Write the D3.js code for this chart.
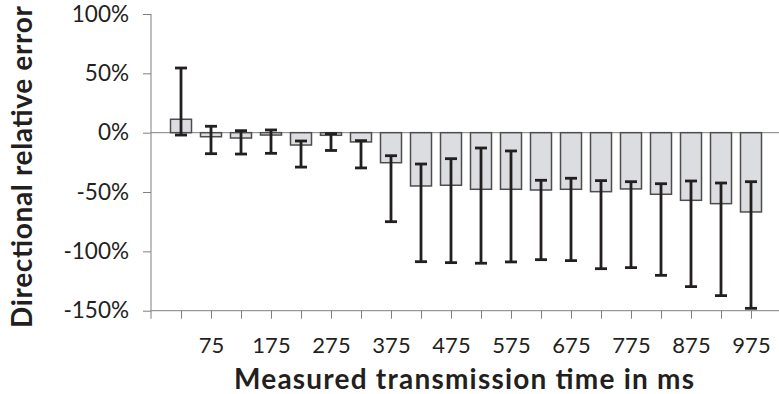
<!DOCTYPE html>
<html>
<head>
<meta charset="utf-8">
<script src="https://cdn.jsdelivr.net/npm/d3@7"></script>
<style>
  body { margin: 0; background: #fff; }
  text { font-family: Lato, "Open Sans", sans-serif; fill: #231f20; }
</style>
</head>
<body>
<script>
var width = 779;
var height = 394;

// measured transmission time bins (ms)
var categories = [25, 75, 125, 175, 225, 275, 325, 375, 425, 475, 525, 575, 625, 675, 725, 775, 825, 875, 925, 975];
// directional relative error (fraction)
var values = [0.113, -0.034, -0.045, -0.02, -0.104, -0.022, -0.078, -0.253, -0.449, -0.443, -0.477, -0.477, -0.483, -0.477, -0.497, -0.474, -0.519, -0.57, -0.598, -0.668];
var errHigh = [0.545, 0.054, 0.017, 0.023, -0.07, -0.008, -0.067, -0.194, -0.264, -0.219, -0.129, -0.154, -0.401, -0.384, -0.404, -0.413, -0.43, -0.407, -0.424, -0.413];
var errLow = [-0.02, -0.177, -0.18, -0.174, -0.29, -0.15, -0.297, -0.75, -1.087, -1.095, -1.10, -1.089, -1.07, -1.078, -1.146, -1.137, -1.202, -1.297, -1.373, -1.48];
var yTicks = [1, 0.5, 0, -0.5, -1, -1.5];
var xLabels = [75, 175, 275, 375, 475, 575, 675, 775, 875, 975];

var svg = d3.select('body')
    .append('svg')
    .attr('width', width)
    .attr('height', height);

var x = d3.scaleLinear()
    .domain([-25, 1025])
    .range([151, 781]);

var y = d3.scaleLinear()
    .domain([-1.5, 1])
    .range([310.7, 14]);

var barWidth = 21;

// y axis
var yAxis = svg.append('g')
    .attr('transform', 'translate(151,0)')
    .call(d3.axisLeft(y)
        .tickValues(yTicks)
        .tickSize(8)
        .tickPadding(14)
        .tickFormat(function(d) { return Math.round(d * 100) + '%'; }));
yAxis.select('.domain').remove();
yAxis.selectAll('.tick line').attr('stroke', '#7f7f7f');
yAxis.selectAll('.tick text')
    .style('font-size', '22.5px')
    .attr('fill', '#231f20');
svg.append('line')
    .attr('x1', 151).attr('x2', 151)
    .attr('y1', y(1)).attr('y2', y(-1.5) + 8)
    .attr('stroke', '#7f7f7f');

// x axis
var xAxis = svg.append('g')
    .attr('transform', 'translate(0,' + y(-1.5) + ')')
    .call(d3.axisBottom(x)
        .tickValues(categories)
        .tickSize(8)
        .tickPadding(19)
        .tickFormat(function(d) { return xLabels.indexOf(d) >= 0 ? d : ''; }));
xAxis.select('.domain').remove();
xAxis.selectAll('.tick line').attr('stroke', '#7f7f7f');
xAxis.selectAll('.tick text')
    .style('font-size', '22px')
    .attr('fill', '#231f20');
svg.append('line')
    .attr('x1', 151).attr('x2', width)
    .attr('y1', y(-1.5)).attr('y2', y(-1.5))
    .attr('stroke', '#7f7f7f');

// zero line
svg.append('line')
    .attr('x1', 151).attr('x2', width)
    .attr('y1', y(0)).attr('y2', y(0))
    .attr('stroke', '#7f7f7f');

// bars
svg.selectAll('rect.bar')
    .data(values)
    .enter()
    .append('rect')
    .attr('class', 'bar')
    .attr('x', function(d, i) { return x(categories[i]) - barWidth / 2; })
    .attr('y', function(d) { return y(Math.max(d, 0)); })
    .attr('width', barWidth)
    .attr('height', function(d) { return Math.abs(y(d) - y(0)); })
    .attr('fill', '#dcdde0')
    .attr('stroke', '#4d4d4f')
    .attr('stroke-width', 1.5);

// error bars
var err = svg.selectAll('g.err')
    .data(categories)
    .enter()
    .append('g')
    .attr('class', 'err')
    .attr('stroke', '#231f20')
    .attr('stroke-width', 2.8);

err.append('line')
    .attr('x1', function(d) { return x(d); })
    .attr('x2', function(d) { return x(d); })
    .attr('y1', function(d, i) { return y(errHigh[i]); })
    .attr('y2', function(d, i) { return y(errLow[i]); });
err.append('line')
    .attr('x1', function(d) { return x(d) - 6; })
    .attr('x2', function(d) { return x(d) + 6; })
    .attr('y1', function(d, i) { return y(errHigh[i]); })
    .attr('y2', function(d, i) { return y(errHigh[i]); });
err.append('line')
    .attr('x1', function(d) { return x(d) - 6; })
    .attr('x2', function(d) { return x(d) + 6; })
    .attr('y1', function(d, i) { return y(errLow[i]); })
    .attr('y2', function(d, i) { return y(errLow[i]); });

// axis titles
svg.append('text')
    .attr('transform', 'translate(32,167) rotate(-90)')
    .attr('text-anchor', 'middle')
    .attr('textLength', 322)
    .attr('lengthAdjust', 'spacing')
    .style('font-size', '28px')
    .style('font-weight', 'bold')
    .text('Directional relative error');

svg.append('text')
    .attr('x', 464)
    .attr('y', 389)
    .attr('text-anchor', 'middle')
    .attr('textLength', 460)
    .attr('lengthAdjust', 'spacing')
    .style('font-size', '28px')
    .style('font-weight', 'bold')
    .text('Measured transmission time in ms');
</script>
</body>
</html>
